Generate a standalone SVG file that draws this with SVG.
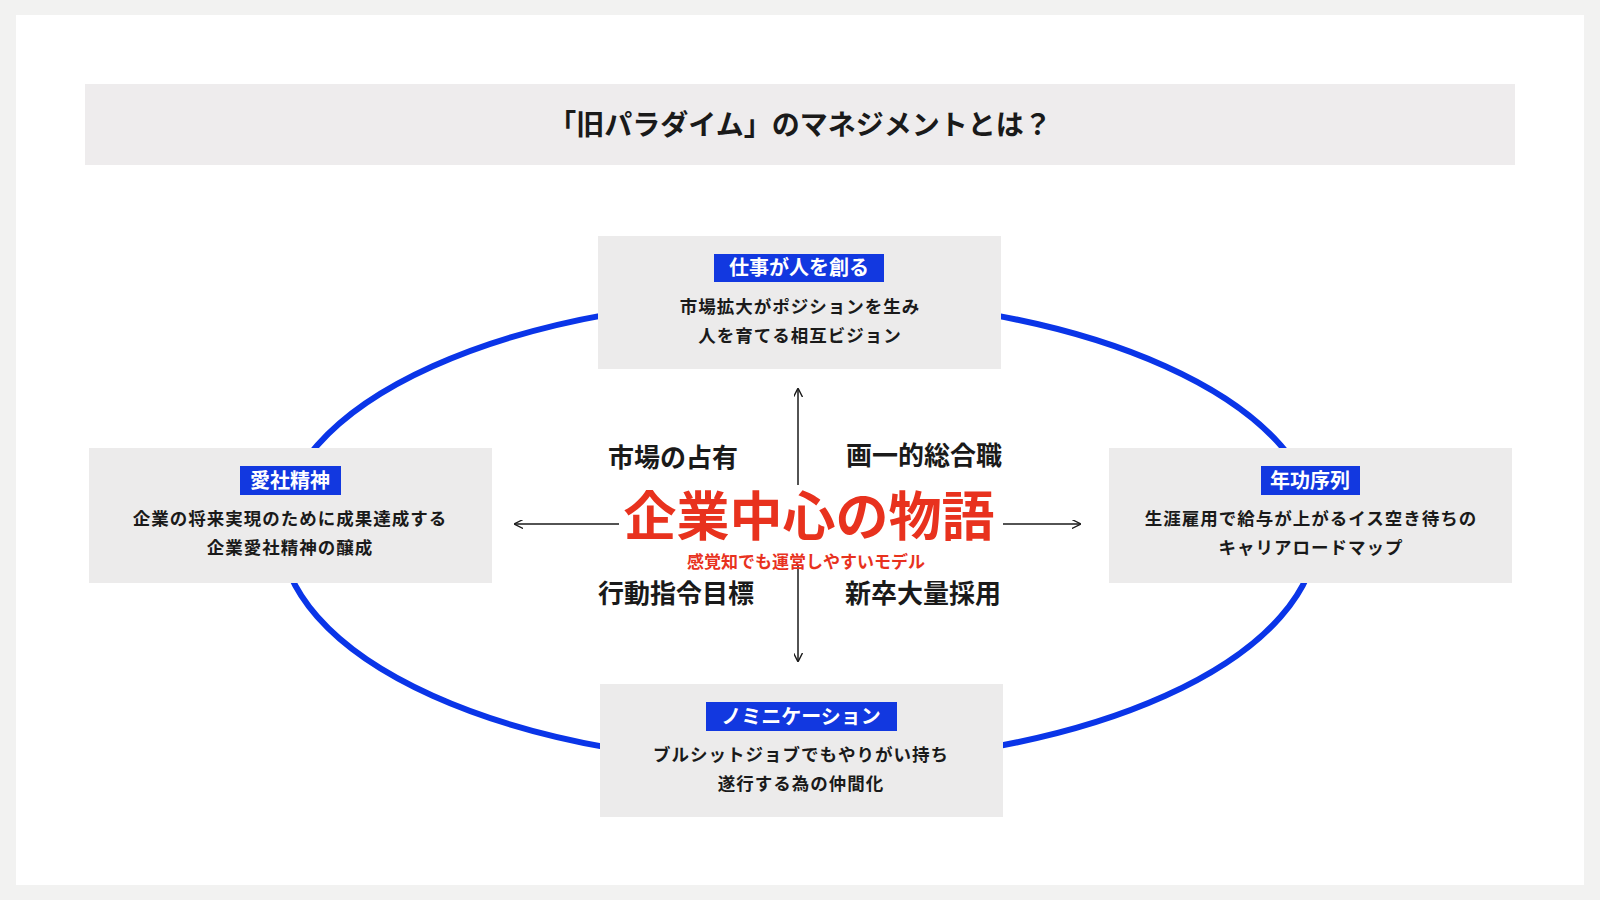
<svg xmlns="http://www.w3.org/2000/svg" width="1600" height="900" viewBox="0 0 1600 900">
<defs>
<style>
text{font-family:"Noto Sans CJK JP","Noto Sans",sans-serif;text-anchor:middle;fill:#1a1a1a}
.box{fill:#ecebeb}
.lab{fill:#1238e0}
.labt{fill:#fff;font-size:20px;font-weight:700}
.body{font-size:17.5px;font-weight:700;letter-spacing:1px}
.quad{font-size:26px;font-weight:700}
.con{stroke:#1a1a1a;stroke-width:1.5;fill:none;marker-end:url(#ah)}
</style>
<marker id="ah" viewBox="0 0 10 10" refX="9" refY="5" markerWidth="9" markerHeight="9" markerUnits="userSpaceOnUse" orient="auto"><path d="M0,0 L10,5 L0,10" fill="none" stroke="#1a1a1a" stroke-width="1.5"/></marker>
</defs>
<rect width="1600" height="900" fill="#f2f2f1"/>
<rect x="16" y="15" width="1568" height="870" fill="#fff"/>
<g id="title"><rect x="85" y="84" width="1430" height="81" fill="#eeeced"/>
<text x="800" y="135" style="font-size:28px;font-weight:700">「旧パラダイム」のマネジメントとは？</text></g>
<ellipse cx="799" cy="531" rx="518" ry="233" fill="none" stroke="#0a35e8" stroke-width="6"/>
<g id="connectors">
<line class="con" x1="798" y1="485" x2="798" y2="389"/>
<line class="con" x1="798" y1="566" x2="798" y2="661"/>
<line class="con" x1="619" y1="524" x2="515" y2="524"/>
<line class="con" x1="1003" y1="524" x2="1080" y2="524"/>
</g>
<g id="center">
<text x="809" y="536" style="font-size:53px;font-weight:700;fill:#e8321e">企業中心の物語</text>
<text x="806" y="568" style="font-size:17px;font-weight:700;fill:#e8321e">感覚知でも運営しやすいモデル</text>
<text class="quad" x="673" y="467">市場の占有</text>
<text class="quad" x="924" y="465">画一的総合職</text>
<text class="quad" x="676" y="603">行動指令目標</text>
<text class="quad" x="923" y="603">新卒大量採用</text>
</g>
<g id="top"><rect class="box" x="598" y="236" width="403" height="133"/>
<rect class="lab" x="714" y="254" width="170" height="28"/><text class="labt" x="799" y="275">仕事が人を創る</text>
<text class="body" x="800" y="313">市場拡大がポジションを生み</text>
<text class="body" x="800" y="342">人を育てる相互ビジョン</text></g>
<g id="left"><rect class="box" x="89" y="448" width="403" height="135"/>
<rect class="lab" x="240" y="466" width="101" height="29"/><text class="labt" x="290" y="488">愛社精神</text>
<text class="body" x="290" y="525">企業の将来実現のために成果達成する</text>
<text class="body" x="290" y="554">企業愛社精神の醸成</text></g>
<g id="right"><rect class="box" x="1109" y="448" width="403" height="135"/>
<rect class="lab" x="1261" y="466" width="99" height="29"/><text class="labt" x="1310" y="488">年功序列</text>
<text class="body" x="1311" y="525">生涯雇用で給与が上がるイス空き待ちの</text>
<text class="body" x="1311" y="554">キャリアロードマップ</text></g>
<g id="bottom"><rect class="box" x="600" y="684" width="403" height="133"/>
<rect class="lab" x="706" y="702" width="191" height="29"/><text class="labt" x="801" y="724">ノミニケーション</text>
<text class="body" x="801" y="761">ブルシットジョブでもやりがい持ち</text>
<text class="body" x="801" y="790">遂行する為の仲間化</text></g>
</svg>
